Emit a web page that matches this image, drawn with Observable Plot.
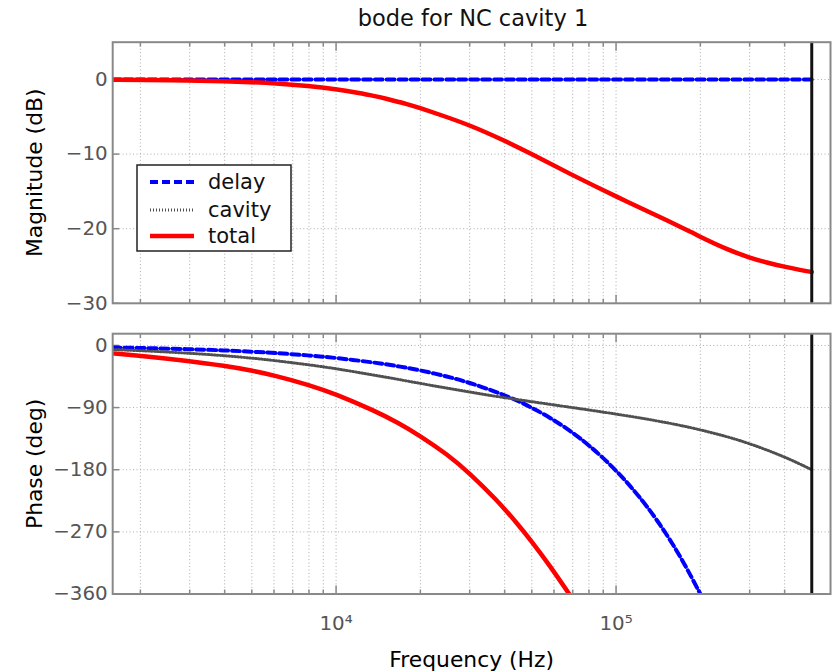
<!DOCTYPE html>
<html><head><meta charset="utf-8">
<script src="https://cdn.jsdelivr.net/npm/d3@7"></script>
<script src="https://cdn.jsdelivr.net/npm/@observablehq/plot@0.6"></script>
<style>
html,body{margin:0;padding:0;background:#fff;}
#wrap{position:relative;width:834px;height:672px;overflow:hidden;font-family:"DejaVu Sans",sans-serif;background:#fff;}
#wrap > svg{position:absolute;left:0;}
</style></head><body><div id="wrap"></div>
<script>
// ---- text ----
const chartTitle = "bode for NC cavity 1";
const seriesNames = ["delay", "cavity", "total"];
const magLabel = "Magnitude (dB)";
const phaseLabel = "Phase (deg)";
const freqLabel = "Frequency (Hz)";

// ---- ticks ----
const magTicks = [0, -10, -20, -30];
const phaseTicks = [0, -90, -180, -270, -360];
const majorFreqTicks = [10000, 100000];
const minorFreqTicks = [2000, 3000, 4000, 5000, 6000, 7000, 8000, 9000,
  20000, 30000, 40000, 50000, 60000, 70000, 80000, 90000,
  200000, 300000, 400000, 500000];
const nyquist = [500000];

// ---- magnitude (dB) ----
const magFreq   = [1593, 2000, 3000, 4000, 5000, 6000, 8000, 10000, 12000, 13700, 15000, 18000, 20000, 23000, 30000, 40000, 50000, 68000, 100000, 155000, 200000, 250000, 300000, 350000, 400000, 450000, 500000];
const magDelay  = [0, 0, 0, 0, 0, 0, 0, 0, 0, 0, 0, 0, 0, 0, 0, 0, 0, 0, 0, 0, 0, 0, 0, 0, 0, 0, 0];
const magCavity = [-0.04, -0.06, -0.13, -0.24, -0.36, -0.5, -0.87, -1.3, -1.8, -2.2, -2.55, -3.3, -3.85, -4.6, -6.1, -8.2, -10.0, -12.6, -15.7, -19.0, -21.1, -22.8, -23.9, -24.6, -25.1, -25.5, -25.8];
const magTotal  = [-0.04, -0.06, -0.13, -0.24, -0.36, -0.5, -0.87, -1.3, -1.8, -2.2, -2.55, -3.3, -3.85, -4.6, -6.1, -8.2, -10.0, -12.6, -15.7, -19.0, -21.1, -22.8, -23.9, -24.6, -25.1, -25.5, -25.8];

// ---- phase (deg) ----
const phaseFreq   = [1593, 2000, 3000, 4000, 5000, 6000, 8000, 10000, 13700, 16600, 20000, 25000, 30000, 37500, 44000, 50000, 58000, 68000, 80000, 100000, 125000, 150000, 175000, 200000, 250000, 300000, 400000, 500000];
const phaseDelay  = [-3, -3.6, -5.4, -7.2, -9, -10.8, -14.4, -18, -24.7, -29.9, -36, -45, -54, -67.5, -79, -90, -104.4, -122.4, -144, -180, -225, -270, -315, -360, null, null, null, null];
const phaseCavity = [-6, -7.5, -11.2, -14.8, -18.3, -21.7, -28, -33.5, -43, -49, -55, -62, -67.4, -74, -78, -81.5, -85.2, -89.3, -93.4, -99.3, -105.7, -111.4, -116.9, -122.1, -132.2, -142, -161, -180];
const phaseTotal  = [-11.5, -14.8, -22.6, -29.5, -36.3, -43.2, -57, -70.5, -94.5, -111.5, -131, -158, -185, -224, -256, -284, -319, -360, null, null, null, null, null, null, null, null, null, null];

// ---- helpers ----
const rows = (fs, vs) => fs.map((f, i) => ({f, v: vs[i]}));
const sup = {"0":"⁰","1":"¹","2":"²","3":"³","4":"⁴","5":"⁵","6":"⁶","7":"⁷","8":"⁸","9":"⁹"};
const fmtPow = d => "10" + String(Math.round(Math.log10(d))).split("").map(c => sup[c]).join("");
const fmtNum = d => d < 0 ? "\u2212" + (-d) : String(d);

const styles = {
  delay:  {stroke: "#0000ff", strokeWidth: 4, strokeDasharray: "8,4"},
  cavity: {stroke: "#505050", strokeWidth: 3, strokeDasharray: "1,2"},
  total:  {stroke: "#ff0000", strokeWidth: 4.5}
};

const W = 840, ML = 113, MR = 4;
const xScale = {type: "log", domain: [1592.6, 583400]};
const gridStyle = {stroke: "#aaa", strokeOpacity: 1, strokeDasharray: "1,2.5", strokeWidth: 1};
const tickStyle = {stroke: "#888", strokeWidth: 1.5, tickFormat: () => "", label: null};

function common(yTicks) {
  return [
    Plot.gridX(minorFreqTicks.concat(majorFreqTicks), gridStyle),
    Plot.gridY(yTicks, gridStyle),
    Plot.axisX(majorFreqTicks, {anchor: "bottom", tickSize: -8, ...tickStyle}),
    Plot.axisX(minorFreqTicks, {anchor: "bottom", tickSize: -4, ...tickStyle}),
    Plot.axisX(majorFreqTicks, {anchor: "top", tickSize: -8, ...tickStyle}),
    Plot.axisX(minorFreqTicks, {anchor: "top", tickSize: -4, ...tickStyle}),
    Plot.axisY(yTicks, {anchor: "left", tickSize: -7, tickPadding: 12, tickFormat: fmtNum,
      fontSize: 20, fill: "#555", stroke: "#888", strokeWidth: 1.5, label: null})
  ];
}
function lines(fs, d, c, t) {
  return [
    Plot.line(rows(fs, d), {x: "f", y: "v", curve: "basis", clip: true, ...styles.delay}),
    Plot.line(rows(fs, c), {x: "f", y: "v", curve: "basis", clip: true, ...styles.cavity}),
    Plot.line(rows(fs, t), {x: "f", y: "v", curve: "basis", clip: true, ...styles.total})
  ];
}

const magPlot = Plot.plot({
  width: W, height: 320, marginLeft: ML, marginRight: MR, marginTop: 42, marginBottom: 15,
  style: {fontFamily: "DejaVu Sans, sans-serif", background: "transparent", overflow: "visible"},
  x: xScale,
  y: {domain: [-30, 5]},
  marks: [
    ...common(magTicks),
    Plot.axisY([], {anchor: "left", label: magLabel, labelAnchor: "center", labelOffset: 87, labelArrow: "none", fontSize: 22, fill: "#000", tickSize: 0}),
    ...lines(magFreq, magDelay, magCavity, magTotal),
    Plot.ruleX(nyquist, {stroke: "#111", strokeWidth: 3}),
    Plot.frame({stroke: "#888", strokeWidth: 2})
  ]
});
magPlot.style.top = "0px";

const phasePlot = Plot.plot({
  width: W, height: 352, marginLeft: ML, marginRight: MR, marginTop: 13.3, marginBottom: 76.5,
  style: {fontFamily: "DejaVu Sans, sans-serif", background: "transparent", overflow: "visible"},
  x: xScale,
  y: {domain: [-360, 17]},
  marks: [
    ...common(phaseTicks),
    Plot.axisY([], {anchor: "left", label: phaseLabel, labelAnchor: "center", labelOffset: 87, labelArrow: "none", fontSize: 22, fill: "#000", tickSize: 0}),
    Plot.axisX(majorFreqTicks, {anchor: "bottom", tickSize: 0, tickPadding: 22, tickFormat: fmtPow, fontSize: 20, fill: "#555", label: null}),
    Plot.axisX([], {anchor: "bottom", label: freqLabel, labelAnchor: "center", labelOffset: 73, labelArrow: "none", fontSize: 22, fill: "#000", tickSize: 0}),
    ...lines(phaseFreq, phaseDelay, phaseCavity, phaseTotal),
    Plot.ruleX(nyquist, {stroke: "#111", strokeWidth: 3}),
    Plot.frame({stroke: "#888", strokeWidth: 2})
  ]
});
phasePlot.style.top = "320px";

const wrap = document.getElementById("wrap");
wrap.appendChild(magPlot);
wrap.appendChild(phasePlot);

// ---- title + legend overlay ----
const ov = d3.create("svg").attr("width", 834).attr("height", 672)
  .style("position", "absolute").style("left", "0px").style("top", "0px")
  .style("font-family", "DejaVu Sans, sans-serif");
ov.append("text").attr("x", 473).attr("y", 26).attr("text-anchor", "middle")
  .attr("font-size", 22.5).attr("fill", "#111").text(chartTitle);
const lg = ov.append("g").attr("transform", "translate(137,165)");
lg.append("rect").attr("width", 154).attr("height", 86).attr("fill", "#fff").attr("stroke", "#222").attr("stroke-width", 1.5);
seriesNames.forEach((name, i) => {
  const y = [17, 45, 71][i];
  const s = styles[name];
  lg.append("line").attr("x1", 13).attr("x2", 57).attr("y1", y).attr("y2", y)
    .attr("stroke", s.stroke).attr("stroke-width", s.strokeWidth)
    .attr("stroke-dasharray", s.strokeDasharray || null);
  lg.append("text").attr("x", 71).attr("y", y + 7).attr("font-size", 21).attr("fill", "#111").text(name);
});
wrap.appendChild(ov.node());
</script></body></html>
